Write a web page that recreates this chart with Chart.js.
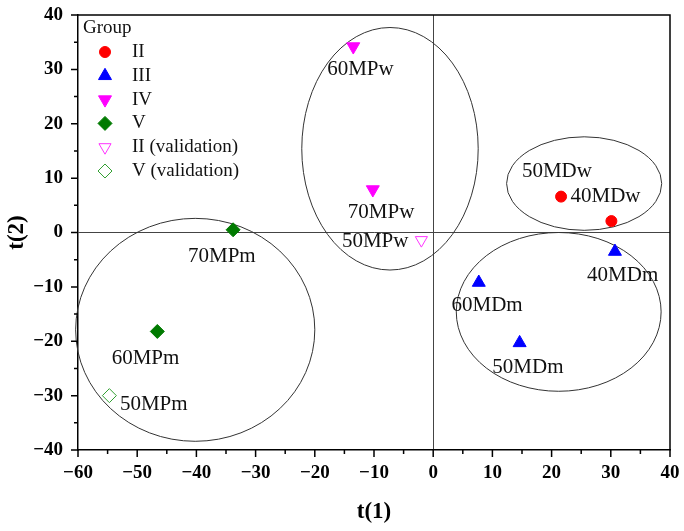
<!DOCTYPE html>
<html>
<head>
<meta charset="utf-8">
<script src="https://cdn.jsdelivr.net/npm/chart.js@4"></script>
<style>
  html, body { margin: 0; padding: 0; background: #fff; }
  #wrap { width: 684px; height: 531px; }
</style>
</head>
<body>
<div id="wrap"><canvas id="scoreChart" width="684" height="531"></canvas></div>
<script>
// t(1) / t(2) scores
const groupNames = ['II', 'III', 'IV', 'V', 'II (validation)', 'V (validation)'];
const groupII = [{ x: 21.6, y: 6.6 }, { x: 30.1, y: 2.1 }];
const groupIII = [{ x: 30.7, y: -3.5 }, { x: 7.7, y: -9.2 }, { x: 14.6, y: -20.3 }];
const groupIV = [{ x: -13.5, y: 34.2 }, { x: -10.2, y: 7.9 }];
const groupV = [{ x: -33.8, y: 0.5 }, { x: -46.6, y: -18.2 }];
const groupIIval = [{ x: -2.0, y: -1.4 }];
const groupVval = [{ x: -54.7, y: -30.0 }];

// sample name annotations (text, t(1), t(2))
const sampleNames = ['60MPw', '70MPw', '50MPw', '50MDw', '40MDw', '40MDm', '60MDm', '50MDm', '70MPm', '60MPm', '50MPm'];
const sampleX = [-12.3, -8.8, -9.8, 20.9, 29.1, 32.0, 9.1, 16.0, -35.7, -48.6, -47.2];
const sampleY = [29.9, 3.6, -1.7, 11.3, 6.7, -7.9, -13.5, -24.8, -4.4, -23.1, -31.7];

// cluster ellipses (centre and half axes in data units)
const ellipseCx = [-40.2, -7.3, 25.5, 21.2];
const ellipseCy = [-17.9, 15.4, 9.0, -14.6];
const ellipseRx = [20.2, 14.9, 13.1, 17.3];
const ellipseRy = [20.5, 22.3, 8.6, 14.6];

// axis tick values
const xTicks = [-60, -50, -40, -30, -20, -10, 0, 10, 20, 30, 40];
const yTicks = [-40, -30, -20, -10, 0, 10, 20, 30, 40];

const serif = "'Liberation Serif', 'Times New Roman', serif";

const markerStyles = [
    { pointStyle: 'circle', radius: 5.5, rotation: 0, fill: '#ff0000', stroke: '#ff0000' },
    { pointStyle: 'triangle', radius: 7.5, rotation: 0, fill: '#0000ff', stroke: '#0000ff' },
    { pointStyle: 'triangle', radius: 7.5, rotation: 180, fill: '#ff00ff', stroke: '#ff00ff' },
    { pointStyle: 'rectRot', radius: 7, rotation: 0, fill: '#007a00', stroke: '#007a00' },
    { pointStyle: 'triangle', radius: 7, rotation: 180, fill: '#ffffff', stroke: '#ff33ff' },
    { pointStyle: 'rectRot', radius: 7, rotation: 0, fill: '#ffffff', stroke: '#33a033' }
];

const groupData = [groupII, groupIII, groupIV, groupV, groupIIval, groupVval];

const datasets = groupData.map((pts, i) => ({
    label: groupNames[i],
    data: pts,
    pointStyle: markerStyles[i].pointStyle,
    pointRadius: markerStyles[i].radius,
    pointRotation: markerStyles[i].rotation,
    backgroundColor: markerStyles[i].fill,
    borderColor: markerStyles[i].stroke,
    borderWidth: 1
}));

const fmt = v => (v < 0 ? '\u2212' + Math.abs(v) : String(v));

const decorPlugin = {
    id: 'decor',
    beforeDatasetsDraw(chart) {
        const { ctx, scales: { x, y } } = chart;
        ctx.save();
        ctx.strokeStyle = '#333';
        ctx.lineWidth = 1;
        for (let i = 0; i < ellipseCx.length; i++) {
            const cx = x.getPixelForValue(ellipseCx[i]);
            const cy = y.getPixelForValue(ellipseCy[i]);
            const rx = Math.abs(x.getPixelForValue(ellipseRx[i]) - x.getPixelForValue(0));
            const ry = Math.abs(y.getPixelForValue(ellipseRy[i]) - y.getPixelForValue(0));
            ctx.beginPath();
            ctx.ellipse(cx, cy, rx, ry, 0, 0, Math.PI * 2);
            ctx.stroke();
        }
        ctx.restore();
    },
    afterDraw(chart) {
        const { ctx, chartArea: a, scales: { x, y } } = chart;
        ctx.save();
        // frame top and right
        ctx.strokeStyle = '#000';
        ctx.lineWidth = 1.5;
        ctx.beginPath();
        ctx.moveTo(a.left, a.top);
        ctx.lineTo(a.right, a.top);
        ctx.lineTo(a.right, a.bottom);
        ctx.stroke();

        // outward ticks, major every 10, minor every 5
        ctx.lineWidth = 1.5;
        ctx.beginPath();
        for (let v = -60; v <= 40; v += 5) {
            const px = x.getPixelForValue(v);
            const len = v % 10 === 0 ? 7 : 4;
            ctx.moveTo(px, a.bottom);
            ctx.lineTo(px, a.bottom + len);
        }
        for (let v = -40; v <= 40; v += 5) {
            const py = y.getPixelForValue(v);
            const len = v % 10 === 0 ? 7 : 4;
            ctx.moveTo(a.left, py);
            ctx.lineTo(a.left - len, py);
        }
        ctx.stroke();

        // sample names
        ctx.fillStyle = '#111';
        ctx.font = '21px ' + serif;
        ctx.textAlign = 'center';
        ctx.textBaseline = 'middle';
        sampleNames.forEach((name, i) => {
            ctx.fillText(name, x.getPixelForValue(sampleX[i]), y.getPixelForValue(sampleY[i]));
        });

        // legend
        ctx.textAlign = 'left';
        ctx.font = '19px ' + serif;
        ctx.fillText('Group', a.left + 5, a.top + 13);
        groupNames.forEach((name, i) => {
            const ly = a.top + 37 + i * 23.8;
            const m = markerStyles[i];
            ctx.fillStyle = m.fill;
            ctx.strokeStyle = m.stroke;
            ctx.lineWidth = 1;
            Chart.helpers.drawPoint(ctx, {
                pointStyle: m.pointStyle,
                radius: m.radius,
                rotation: m.rotation,
                borderWidth: 1
            }, a.left + 27, ly);
            ctx.fillStyle = '#111';
            ctx.fillText(name, a.left + 54, ly);
        });
        ctx.restore();
    }
};

new Chart(document.getElementById('scoreChart').getContext('2d'), {
    type: 'scatter',
    data: { datasets: datasets },
    options: {
        responsive: false,
        animation: false,
        layout: { padding: { top: 15, right: 14, left: 0, bottom: 0 } },
        plugins: {
            legend: { display: false },
            tooltip: { enabled: false }
        },
        scales: {
            x: {
                type: 'linear',
                min: -60,
                max: 40,
                afterFit: s => { s.height = 81; s.paddingLeft = 0; s.paddingRight = 0; },
                afterBuildTicks: s => { s.ticks = xTicks.map(v => ({ value: v })); },
                ticks: {
                    callback: v => fmt(v),
                    color: '#000',
                    padding: 12,
                    maxRotation: 0,
                    font: { family: serif, size: 19, weight: 'bold' }
                },
                grid: {
                    drawTicks: false,
                    color: c => (c.tick && c.tick.value === 0 ? '#444' : 'rgba(0,0,0,0)'),
                    lineWidth: 1
                },
                border: { color: '#000', width: 1.5 },
                title: {
                    display: true,
                    text: 't(1)',
                    color: '#000',
                    padding: { top: 0, bottom: 5 },
                    font: { family: serif, size: 23, weight: 'bold' }
                }
            },
            y: {
                type: 'linear',
                min: -40,
                max: 40,
                afterFit: s => { s.width = 78; s.paddingTop = 0; s.paddingBottom = 0; },
                afterBuildTicks: s => { s.ticks = yTicks.map(v => ({ value: v })); },
                ticks: {
                    callback: v => fmt(v),
                    color: '#000',
                    padding: 15,
                    font: { family: serif, size: 19, weight: 'bold' }
                },
                grid: {
                    drawTicks: false,
                    color: c => (c.tick && c.tick.value === 0 ? '#444' : 'rgba(0,0,0,0)'),
                    lineWidth: 1
                },
                border: { color: '#000', width: 1.5 },
                title: {
                    display: true,
                    text: 't(2)',
                    color: '#000',
                    padding: { top: 3, bottom: 0 },
                    font: { family: serif, size: 23, weight: 'bold' }
                }
            }
        }
    },
    plugins: [decorPlugin]
});
</script>
</body>
</html>
